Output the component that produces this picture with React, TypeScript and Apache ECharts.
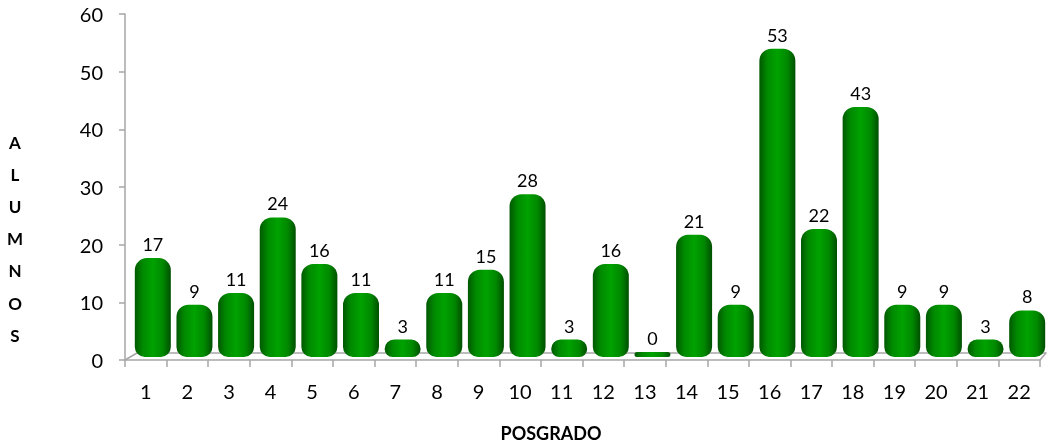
import React, { useEffect, useRef } from "react";
import * as echarts from "echarts";

const categories = ["1","2","3","4","5","6","7","8","9","10","11","12","13","14","15","16","17","18","19","20","21","22"];
const values = [17, 9, 11, 24, 16, 11, 3, 11, 15, 28, 3, 16, 0, 21, 9, 53, 22, 43, 9, 9, 3, 8];
const yTicks = { min: 0, max: 60, interval: 10 };
const yName = "ALUMNOS";
const xName = "POSGRADO";

export default function App() {
  const ref = useRef<HTMLDivElement>(null);
  useEffect(() => {
    if (!ref.current) return;
    const chart = echarts.init(ref.current, undefined, { renderer: "svg" });
    const font = "Lato, 'Open Sans', sans-serif";
    const gray = "#a6a6a6";
    const grad = new echarts.graphic.LinearGradient(0, 0, 1, 0, [
      { offset: 0, color: "#005800" },
      { offset: 0.22, color: "#008a00" },
      { offset: 0.5, color: "#00a200" },
      { offset: 0.78, color: "#008800" },
      { offset: 1, color: "#004f00" },
    ]);
    chart.setOption({
      animation: false,
      grid: [
        { left: 125, right: 10, top: 14, bottom: 85 },
        { left: 132, right: 2, top: 8, bottom: 88 },
        { left: 137, right: 4, top: 8, bottom: 92 },
      ],
      xAxis: [
        {
          gridIndex: 0,
          type: "category",
          data: categories,
          boundaryGap: true,
          axisLine: { show: true, lineStyle: { color: gray, width: 1.5 } },
          axisTick: { show: true, length: 7, lineStyle: { color: gray, width: 1.5 } },
          axisLabel: { color: "#000", fontSize: 20, fontFamily: font, margin: 21 },
        },
        {
          gridIndex: 1,
          type: "category",
          data: categories,
          show: false,
        },
        {
          gridIndex: 2,
          type: "category",
          data: categories,
          axisLine: { show: true, lineStyle: { color: gray, width: 1.5 } },
          axisTick: { show: false },
          axisLabel: { show: false },
        },
      ],
      yAxis: [
        {
          gridIndex: 0,
          type: "value",
          min: yTicks.min,
          max: yTicks.max,
          interval: yTicks.interval,
          splitLine: { show: false },
          axisLine: { show: true, lineStyle: { color: gray, width: 1.5 } },
          axisTick: { show: true, length: 6, lineStyle: { color: gray, width: 1.5 } },
          axisLabel: { color: "#000", fontSize: 20, fontFamily: font, margin: 22 },
        },
        {
          gridIndex: 1,
          type: "value",
          min: yTicks.min,
          max: yTicks.max,
          interval: yTicks.interval,
          show: false,
          splitLine: { show: false },
        },
        {
          gridIndex: 2,
          type: "value",
          min: yTicks.min,
          max: yTicks.max,
          interval: yTicks.interval,
          show: false,
          splitLine: { show: false },
        },
      ],
      graphic: [
        {
          type: "line",
          shape: { x1: 125, y1: 360, x2: 137, y2: 353 },
          style: { stroke: gray, lineWidth: 1.5 },
          z: 0,
        },
        {
          type: "line",
          shape: { x1: 1040, y1: 360, x2: 1046, y2: 353 },
          style: { stroke: gray, lineWidth: 1.5 },
          z: 0,
        },
        {
          type: "text",
          x: 15,
          y: 126,
          style: {
            text: yName.split("").join("\n"),
            font: `bold 17px ${font}`,
            fill: "#000",
            lineHeight: 32.2,
            align: "center",
          },
        },
        {
          type: "text",
          x: 551,
          y: 424,
          style: {
            text: xName,
            font: `bold 18px ${font}`,
            fill: "#000",
            align: "center",
          },
        },
      ],
      series: [
        {
          type: "bar",
          xAxisIndex: 1,
          yAxisIndex: 1,
          data: values,
          barWidth: 36,
          barMinHeight: 5,
          itemStyle: {
            color: grad,
            borderRadius: [12, 12, 10, 10],
          },
          label: {
            show: true,
            position: "top",
            distance: 5,
            color: "#000",
            fontSize: 18,
            fontFamily: font,
          },
        },
      ],
    });
    return () => chart.dispose();
  }, []);
  return (
    <div
      ref={ref}
      style={{ position: "fixed", left: 0, top: 0, width: 1050, height: 445 }}
    />
  );
}
